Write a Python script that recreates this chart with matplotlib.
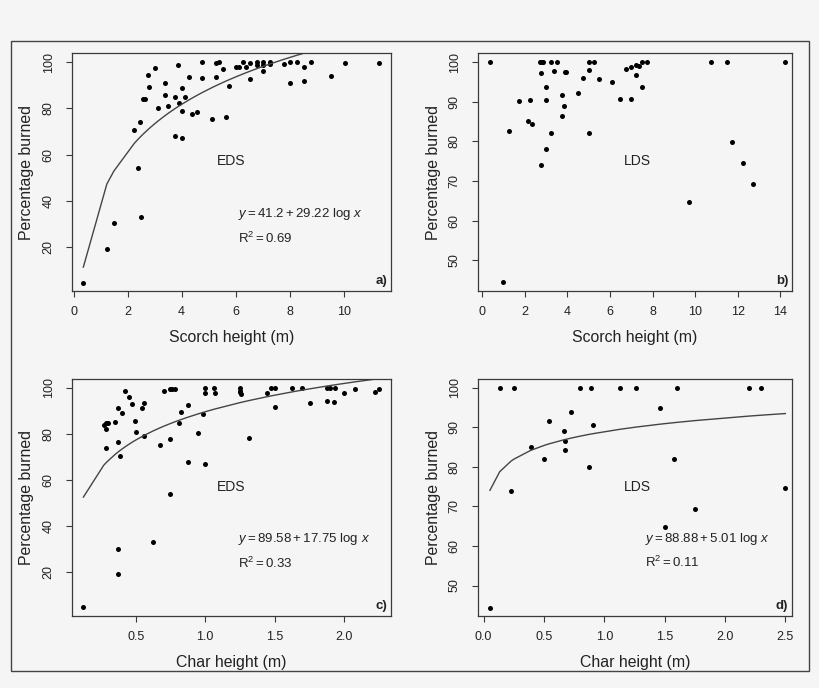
import numpy as np
import matplotlib
matplotlib.use('Agg')
import matplotlib.pyplot as plt
from matplotlib.patches import Rectangle

plt.rcParams['font.family'] = ['Liberation Sans', 'DejaVu Sans']
plt.rcParams['mathtext.fontset'] = 'custom'
plt.rcParams['mathtext.rm'] = 'Liberation Sans'
plt.rcParams['mathtext.it'] = 'Liberation Sans:italic'

# panel a: EDS, scorch height
a_x = [0.36, 1.23, 1.49, 2.25, 2.37, 2.49, 2.44, 2.58, 2.64, 2.75, 2.80, 3.00, 3.12, 3.38, 3.38,
       3.51, 3.75, 3.77, 3.88, 3.89, 4.01, 4.01, 4.01, 4.14, 4.26, 4.38, 4.57, 4.77, 4.77, 5.14,
       5.26, 5.26, 5.40, 5.52, 5.64, 5.77, 6.01, 6.14, 6.27, 6.40, 6.52, 6.52, 6.78, 6.78, 7.02,
       7.02, 7.02, 7.28, 7.28, 7.78, 8.02, 8.02, 8.28, 8.54, 8.54, 8.79, 9.54, 10.04, 11.32]
a_y = [4.6, 19.2, 30.2, 70.4, 54.0, 33.0, 74.1, 84.2, 83.8, 94.2, 89.3, 97.5, 80.1, 91.0, 85.7,
       80.9, 85.0, 67.8, 98.6, 82.1, 88.6, 78.9, 67.1, 84.7, 93.5, 77.6, 78.2, 100, 93.1, 75.3,
       99.6, 93.4, 100, 97.0, 76.3, 89.5, 97.7, 97.7, 100, 97.7, 99.6, 92.6, 100, 98.6, 100,
       98.6, 96.1, 100, 99.1, 99.0, 100, 91.0, 100, 97.7, 91.8, 100, 93.9, 99.6, 99.7]

# panel b: LDS, scorch height
b_x = [0.36, 0.99, 1.25, 1.74, 2.15, 2.24, 2.36, 2.72, 2.79, 2.85, 2.74, 2.74, 2.99, 2.99, 2.99,
       3.24, 3.24, 3.37, 3.49, 3.74, 3.74, 3.82, 3.87, 3.95, 4.48, 4.73, 5.0, 5.0, 5.0, 5.25,
       5.48, 6.11, 6.48, 6.73, 6.98, 6.98, 7.23, 7.23, 7.34, 7.49, 7.49, 7.75, 9.72, 10.74,
       11.48, 11.73, 12.23, 12.73, 14.23]
b_y = [100, 44.4, 82.5, 90.1, 85.1, 90.5, 84.3, 100, 100, 100, 97.3, 73.9, 93.8, 90.5, 78.1,
       100, 82.0, 97.8, 100, 91.6, 86.5, 89.0, 97.5, 97.5, 92.1, 96.0, 100, 98.0, 82.0, 100,
       95.7, 94.9, 90.6, 98.2, 98.7, 90.8, 99.2, 96.8, 99.0, 100, 93.6, 100, 64.6, 100,
       100, 79.9, 74.6, 69.3, 100]

# panel c: EDS, char height
c_x = [0.124, 0.27, 0.284, 0.287, 0.30, 0.287, 0.35, 0.373, 0.40, 0.375, 0.385, 0.373, 0.373,
       0.426, 0.45, 0.474, 0.498, 0.50, 0.548, 0.562, 0.56, 0.625, 0.675, 0.70, 0.75, 0.764,
       0.78, 0.75, 0.75, 0.81, 0.824, 0.874, 0.874, 0.948, 0.987, 1.0, 1.0, 1.0, 1.06, 1.07,
       1.25, 1.25, 1.25, 1.255, 1.317, 1.447, 1.47, 1.5, 1.5, 1.624, 1.698, 1.75, 1.873, 1.923,
       1.873, 1.897, 1.935, 1.998, 2.074, 2.22, 2.25]
c_y = [4.6, 83.8, 84.5, 82.0, 84.5, 74.0, 85.0, 91.0, 89.1, 76.4, 70.2, 30.0, 19.2,
       98.8, 96.1, 93.1, 85.7, 81.0, 91.0, 93.5, 78.9, 32.9, 75.3, 98.8, 99.3, 99.3,
       99.3, 77.6, 54.0, 84.7, 89.4, 92.6, 67.7, 80.2, 88.7, 100, 97.7, 67.0, 100, 97.7,
       100, 98.8, 98.0, 97.1, 78.1, 97.7, 100, 100, 91.6, 100, 100, 93.3, 94.1, 93.8,
       100, 100, 100, 97.7, 99.6, 98.1, 99.3]

# panel d: LDS, char height
d_x = [0.052, 0.133, 0.251, 0.227, 0.39, 0.503, 0.539, 0.663, 0.677, 0.677, 0.727, 0.80, 0.89,
       0.876, 0.903, 1.127, 1.262, 1.461, 1.50, 1.577, 1.60, 1.751, 2.20, 2.298, 2.50]
d_y = [44.4, 100, 100, 73.9, 85.0, 82.0, 91.6, 89.0, 86.5, 84.3, 93.8, 100, 100,
       80.0, 90.5, 100, 100, 94.9, 64.7, 82.0, 100, 69.4, 100, 100, 74.7]

# fitted coefficients (intercept, slope of log x) as printed on the chart
fit_a = (41.2, 29.22)
fit_c = (89.58, 17.75)
fit_d = (88.88, 5.01)

BG = '#f5f5f5'
INK = '#222222'
BOX = '#3a3a3a'

fig = plt.figure(figsize=(8.2, 6.88), dpi=100, facecolor=BG)
fig.patches.append(Rectangle((11 / 820, 1 - 671 / 688), 798 / 820, 630 / 688,
                             transform=fig.transFigure, fill=False, ec='#444444', lw=1.0))

W, H = 820, 688
def box(l, t, r, b):
    return [l / W, 1 - b / H, (r - l) / W, (b - t) / H]

panels = [
    dict(pos=box(72, 53, 391, 291), x=a_x, y=a_y, fit=fit_a, xlim=(-0.06, 11.75), ylim=(1.0, 103.9),
         xt=[0, 2, 4, 6, 8, 10], xtl=['0', '2', '4', '6', '8', '10'], yt=[20, 40, 60, 80, 100],
         xlabel='Scorch height (m)', tag='a)', grp='EDS', grp_xy=(5.83, 57.2),
         eq=r'$y = 41.2 + 29.22\ \mathrm{log}\ x$', r2=r'$\mathrm{R}^2 = 0.69$', eq_xy=(6.07, 34.5, 23.7)),
    dict(pos=box(478, 53, 792, 291), x=b_x, y=b_y, fit=None, xlim=(-0.2, 14.55), ylim=(42.2, 102.3),
         xt=[0, 2, 4, 6, 8, 10, 12, 14], xtl=['0', '2', '4', '6', '8', '10', '12', '14'],
         yt=[50, 60, 70, 80, 90, 100],
         xlabel='Scorch height (m)', tag='b)', grp='LDS', grp_xy=(7.3, 75.0)),
    dict(pos=box(72, 379, 391, 616), x=c_x, y=c_y, fit=fit_c, xlim=(0.042, 2.336), ylim=(0.9, 103.8),
         xt=[0.5, 1.0, 1.5, 2.0], xtl=['0.5', '1.0', '1.5', '2.0'], yt=[20, 40, 60, 80, 100],
         xlabel='Char height (m)', tag='c)', grp='EDS', grp_xy=(1.185, 57.0),
         eq=r'$y = 89.58 + 17.75\ \mathrm{log}\ x$', r2=r'$\mathrm{R}^2 = 0.33$', eq_xy=(1.233, 34.2, 23.7)),
    dict(pos=box(478, 379, 792, 616), x=d_x, y=d_y, fit=fit_d, xlim=(-0.047, 2.555), ylim=(42.3, 102.2),
         xt=[0.0, 0.5, 1.0, 1.5, 2.0, 2.5], xtl=['0.0', '0.5', '1.0', '1.5', '2.0', '2.5'],
         yt=[50, 60, 70, 80, 90, 100],
         xlabel='Char height (m)', tag='d)', grp='LDS', grp_xy=(1.276, 75.0),
         eq=r'$y = 88.88 + 5.01\ \mathrm{log}\ x$', r2=r'$\mathrm{R}^2 = 0.11$', eq_xy=(1.334, 61.7, 55.8)),
]

for p in panels:
    ax = fig.add_axes(p['pos'])
    ax.set_facecolor(BG)
    x = np.array(p['x'])
    y = np.array(p['y'])
    ax.plot(x, y, 'o', color='black', markersize=3.6, markeredgewidth=0)
    if p['fit'] is not None:
        xs = np.sort(x)
        ax.plot(xs, p['fit'][0] + p['fit'][1] * np.log(xs), color='#444444', lw=1.0)
    ax.set_xlim(*p['xlim'])
    ax.set_ylim(*p['ylim'])
    ax.set_xticks(p['xt'])
    ax.set_xticklabels(p['xtl'])
    ax.set_yticks(p['yt'])
    ax.set_yticklabels([str(v) for v in p['yt']], rotation=90, va='center')
    ax.tick_params(colors=BOX, labelcolor=INK, labelsize=9, length=4.5, width=0.8)
    ax.tick_params(axis='x', pad=6)
    ax.tick_params(axis='y', pad=8)
    for s in ax.spines.values():
        s.set_color(BOX)
        s.set_linewidth(0.9)
    ax.set_xlabel(p['xlabel'], fontsize=11.4, color=INK, va='center')
    ax.xaxis.set_label_coords(0.5, -0.195)
    ax.set_ylabel('Percentage burned', fontsize=11.4, color=INK, va='center')
    ax.yaxis.set_label_coords(-0.142, 0.5)
    ax.text(0.988, 0.018, p['tag'], transform=ax.transAxes, ha='right', va='bottom',
            fontsize=9.5, fontweight='bold', color=INK)
    ax.text(p['grp_xy'][0], p['grp_xy'][1], p['grp'], ha='center', va='center',
            fontsize=10, color=INK)
    if 'eq' in p:
        ex, ey, ry = p['eq_xy']
        ax.text(ex, ey, p['eq'], ha='left', va='center', fontsize=9.5, color=INK)
        ax.text(ex, ry, p['r2'], ha='left', va='center', fontsize=9.5, color=INK)

fig.savefig('out.png', dpi=100, facecolor=BG)
